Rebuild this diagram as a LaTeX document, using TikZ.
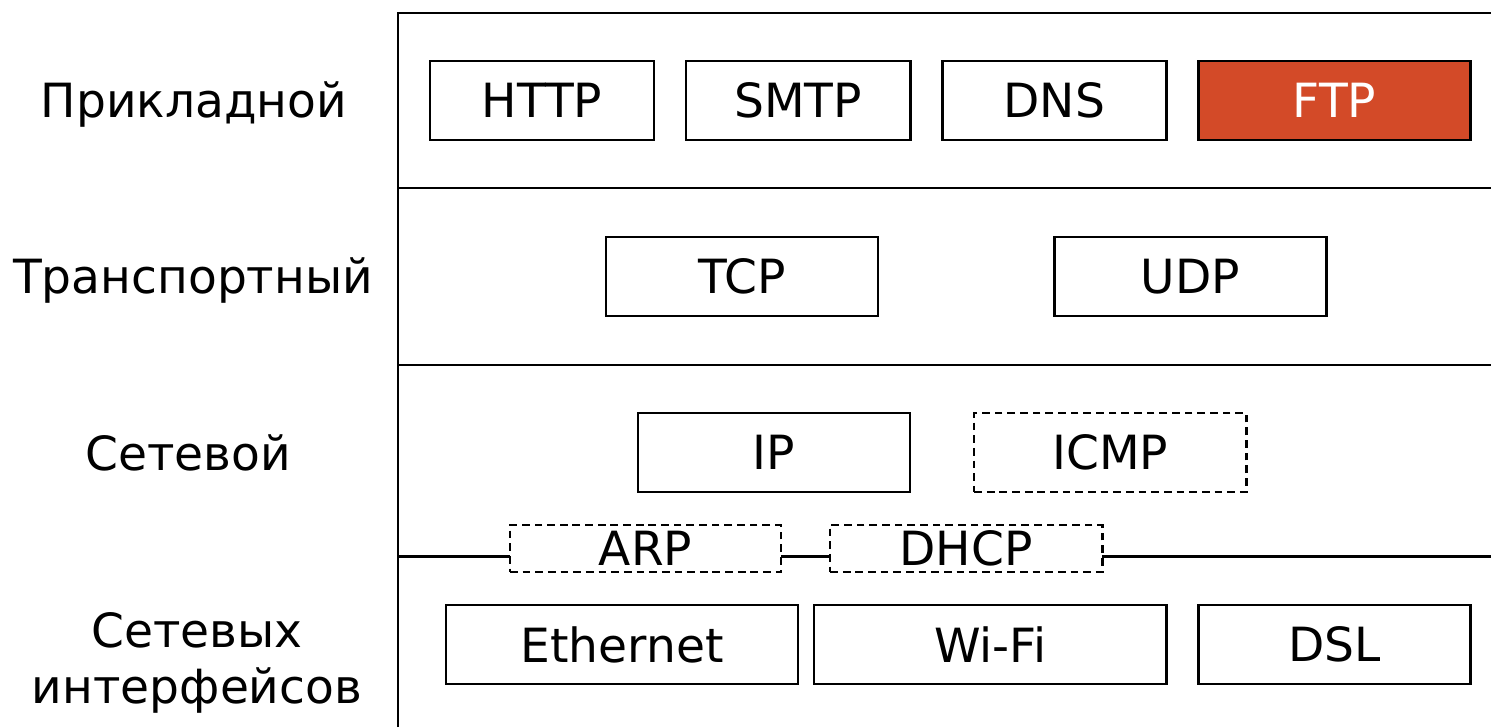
\documentclass[tikz,border=0pt]{standalone}
\usepackage{fontspec}
\setmainfont{DejaVu Sans}
\usetikzlibrary{positioning}
\definecolor{ftpred}{RGB}{211,74,40}
\begin{document}
\begin{tikzpicture}[x=0.01cm, y=-0.01cm, line width=0.75pt,
  font=\fontsize{13.4}{15.9}\selectfont,
  proto/.style={draw, rectangle, outer sep=0pt, minimum height=0.79cm, minimum width=2.72cm},
  optproto/.style={proto, dash pattern=on 2.2pt off 1.4pt},
  layer/.style={anchor=base}]
\useasboundingbox (0,0) rectangle (1491,727);
% frame of the layers
\coordinate (netleft) at (398,556.5);
\coordinate (netright) at (1491,556.5);
\draw (398,727) -- (398,13) -- (1491,13);
\draw (398,188) -- (1491,188);
\draw (398,365) -- (1491,365);
% layer names
\node (app) [layer] at (194,117) {Прикладной};
\node (transport) [layer] at (193,293) {Транспортный};
\node (network) [layer] at (188,470) {Сетевой};
\node (link) [layer, align=center] at (197,703) {Сетевых\\интерфейсов};
% application
\node (http) [proto, minimum width=2.24cm] at (542,100.5) {HTTP};
\node (smtp) [proto, minimum width=2.24cm, right=0.32cm of http] {SMTP};
\node (dns) [proto, minimum width=2.24cm, right=0.32cm of smtp] {DNS};
\node (ftp) [proto, fill=ftpred, text=white, right=0.32cm of dns] {FTP};
% transport
\node (tcp) [proto] at (742,276.5) {TCP};
\node (udp) [proto, right=1.76cm of tcp] {UDP};
% network
\node (ip) [proto] at (774,452.5) {IP};
\node (icmp) [optproto, right=0.64cm of ip] {ICMP};
\node (arp) [optproto, inner ysep=0.5pt, minimum height=0.47cm, minimum width=2.71cm] at (645.5,548.5) {ARP};
\node (dhcp) [optproto, inner ysep=0.5pt, minimum height=0.47cm, right=0.49cm of arp] {DHCP};
\draw (netleft) -- (netleft -| arp.west);
\draw (netleft -| arp.east) -- (netleft -| dhcp.west);
\draw (netleft -| dhcp.east) -- (netright);
% interfaces
\node (ethernet) [proto, minimum width=3.52cm] at (622,644.5) {Ethernet};
\node (wifi) [proto, minimum width=3.52cm, right=0.16cm of ethernet] {Wi-Fi};
\node (dsl) [proto, right=0.32cm of wifi] {DSL};
\end{tikzpicture}
\end{document}
